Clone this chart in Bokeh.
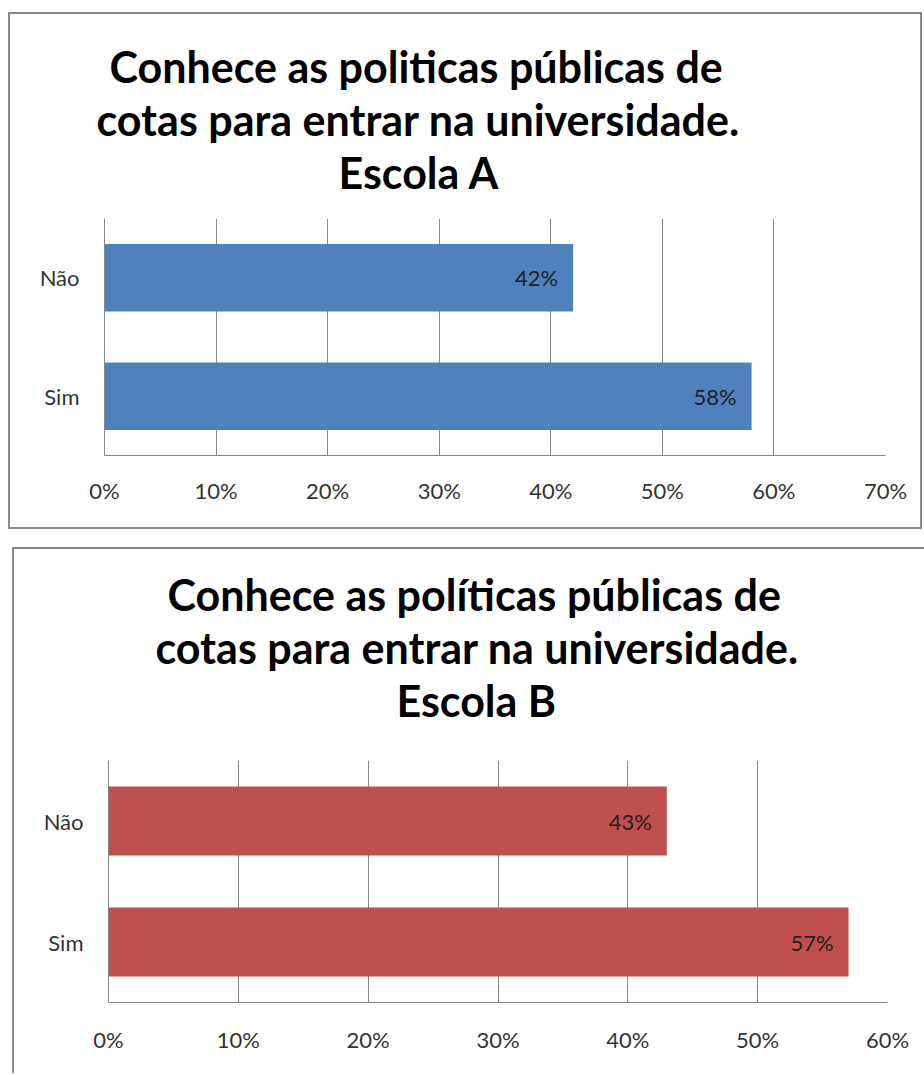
from bokeh.plotting import figure
from bokeh.layouts import column
from bokeh.models import (FactorRange, Range1d, FixedTicker, NumeralTickFormatter,
                          Title, LabelSet, ColumnDataSource)
from bokeh.embed import file_html
from bokeh.resources import INLINE
from bokeh.core.properties import value

# ---- data ----
categories = ["Sim", "Não"]
values_a = [0.58, 0.42]
values_b = [0.57, 0.43]
labels_a = ["58%", "42%"]
labels_b = ["57%", "43%"]
ticks_a = [0.0, 0.1, 0.2, 0.3, 0.4, 0.5, 0.6, 0.7]
ticks_b = [0.0, 0.1, 0.2, 0.3, 0.4, 0.5, 0.6]
title_a = ["Conhece as politicas públicas de", "cotas para entrar na universidade.", "Escola A"]
title_b = ["Conhece as políticas públicas de", "cotas para entrar na universidade.", "Escola B"]

FONT = "Lato"
GRID = "#868686"
TXT = "#333333"


def make_panel(vals, labs, ticks, title_lines, color, width, height, mb, margin, styles,
               title_offsets, title_gap, x_standoff):
    src = ColumnDataSource(dict(cat=categories, val=vals, lab=labs))
    p = figure(width=width, height=height,
               y_range=FactorRange(factors=categories),
               x_range=Range1d(ticks[0], ticks[-1]),
               output_backend="svg", toolbar_location=None,
               min_border_left=mb[0], min_border_right=mb[1],
               min_border_top=mb[2], min_border_bottom=mb[3],
               margin=margin, styles=styles)
    p.outline_line_color = None
    p.background_fill_color = "white"
    p.border_fill_color = "white"
    p.hbar(y="cat", left=0, right="val", height=0.57, source=src,
           fill_color=color, line_color=None)
    p.add_layout(LabelSet(x="val", y="cat", text="lab", source=src,
                          x_offset=-15, text_align="right", text_baseline="middle",
                          text_font=value(FONT), text_font_size="22px",
                          text_color="#1f1f1f"))
    tk = FixedTicker(ticks=ticks)
    p.xaxis.ticker = tk
    p.xaxis.formatter = NumeralTickFormatter(format="0%")
    p.xaxis.major_tick_line_color = None
    p.xaxis.minor_tick_line_color = None
    p.xaxis.axis_line_color = GRID
    p.xaxis.major_label_standoff = x_standoff
    p.xaxis.major_label_text_font = FONT
    p.xaxis.major_label_text_font_size = "22px"
    p.xaxis.major_label_text_color = TXT
    p.yaxis.major_tick_line_color = None
    p.yaxis.minor_tick_line_color = None
    p.yaxis.axis_line_color = GRID
    p.yaxis.major_label_standoff = 19
    p.yaxis.major_label_text_font = FONT
    p.yaxis.major_label_text_font_size = "22px"
    p.yaxis.major_label_text_color = TXT
    p.xgrid.ticker = tk
    p.xgrid.grid_line_color = GRID
    p.ygrid.grid_line_color = None
    # spacer between the frame and the title block
    p.add_layout(Title(text=" ", text_font_size="1px", standoff=title_gap), "above")
    # title lines: nearest-to-frame first
    for line, off in reversed(list(zip(title_lines, title_offsets))):
        p.add_layout(Title(text=line, align="left", offset=off, standoff=0,
                           text_font=FONT, text_font_style="bold",
                           text_font_size="43px", text_color="#000000"), "above")
    return p


p1 = make_panel(values_a, labels_a, ticks_a, title_a, "#4F81BD",
                width=914, height=517, mb=(94, 33, 204, 76),
                margin=(12, 0, 0, 8), styles={"border": "2px solid #888888"},
                title_offsets=[5, -8, 234], title_gap=18, x_standoff=15)
p2 = make_panel(values_b, labels_b, ticks_b, title_b, "#C0504D",
                width=912, height=526, mb=(93, 39, 211, 73),
                margin=(18, 0, 0, 12),
                styles={"border-top": "2px solid #888888", "border-left": "2px solid #888888"},
                title_offsets=[59, 47, 288], title_gap=32, x_standoff=17)

layout = column(p1, p2, spacing=0)
open("out.html", "w").write(file_html(layout, INLINE))
